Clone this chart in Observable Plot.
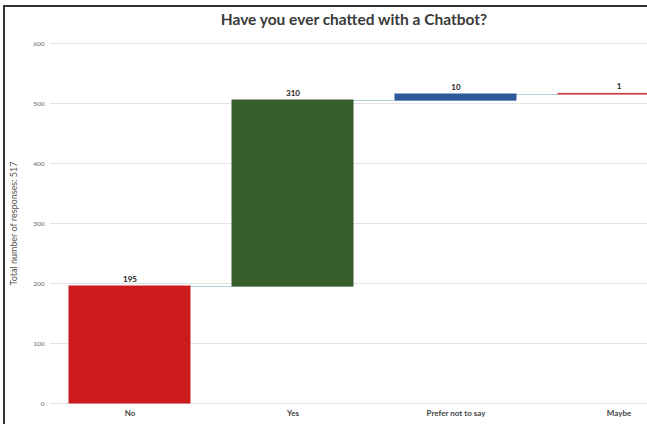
<!DOCTYPE html>
<html><head><meta charset="utf-8">
<script src="https://cdn.jsdelivr.net/npm/d3@7"></script>
<script src="https://cdn.jsdelivr.net/npm/@observablehq/plot@0.6"></script>
<style>
html,body{margin:0;padding:0;overflow:hidden;width:647px;height:424px}
body{background:#fff;position:relative;font-family:Lato,sans-serif}
#frame{position:absolute;left:3px;top:5px;width:642px;height:417px;border-left:2px solid #333;border-top:2px solid #333}
#title{position:absolute;left:0;top:10px;width:586px;padding-left:61px;text-align:center;font:bold 15.5px Lato,sans-serif;color:#3a3a3a}
#chart{position:absolute;left:0;top:36px;width:647px;height:388px;overflow:hidden}
</style></head><body>
<div id="frame"></div>
<div id="title"></div>
<div id="chart"></div>
<script>
const titleText = "Have you ever chatted with a Chatbot?";
const categories = ["No", "Yes", "Prefer not to say", "Maybe"];
const values = [195, 310, 10, 1];
const colors = ["#cc1b1f", "#375f2c", "#2e5a9c", "#e23a42"];
const yTicks = [0, 100, 200, 300, 400, 500, 600];
const yLabel = "Total number of responses: 517";

document.getElementById("title").textContent = titleText;

let cum = 0;
const rows = categories.map((c, i) => {
  const start = cum; cum += values[i];
  return {cat: c, value: values[i], start, end: cum, color: colors[i]};
});
const connectors = rows.slice(0, -1).map((r, i) => ({x1: r.cat, x2: categories[i + 1], y: r.end}));

const chart = Plot.plot({
  width: 647, height: 388,
  marginLeft: 50, marginRight: 0, marginTop: 7, marginBottom: 21,
  style: {fontFamily: "Lato, sans-serif", color: "#333"},
  x: {domain: categories, range: [26, 723], padding: 0.255},
  y: {domain: [0, 600]},
  marks: [
    Plot.gridY(yTicks, {stroke: "#e4e4e4", strokeOpacity: 1}),
    Plot.axisY({ticks: yTicks, tickSize: 0, tickPadding: 6, fontSize: 6.5, fill: "#666",
      label: yLabel, labelAnchor: "center", labelOffset: 40, labelArrow: "none"}),
    Plot.axisX({tickSize: 0, tickPadding: 7, fontSize: 8, fontWeight: "bold", fill: "#444", label: null}),
    Plot.ruleY(connectors, {x1: "x1", x2: "x2", y: "y", stroke: "#b8cfdc", strokeWidth: 1}),
    Plot.barY(rows, {x: "cat", y1: "start", y2: "end", fill: "color", stroke: "color", strokeWidth: 1, inset: 0}),
    Plot.text(rows, {x: "cat", y: "end", text: d => String(d.value), dy: -7, fontSize: 8, fontWeight: "bold", fill: "#222"})
  ]
});
chart.querySelectorAll('[aria-label="y-axis label"] text, g[aria-label="y-axis label"]').forEach(el => {
  el.setAttribute("font-size", "9px"); el.setAttribute("fill", "#555");
});
document.getElementById("chart").appendChild(chart);
</script>
</body></html>
